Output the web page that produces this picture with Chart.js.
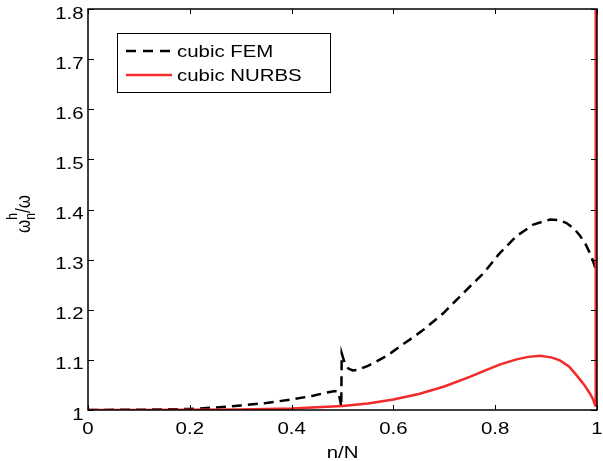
<!DOCTYPE html>
<html>
<head>
<meta charset="utf-8">
<script src="https://cdn.jsdelivr.net/npm/chart.js@4/dist/chart.umd.min.js"></script>
<style>
  html, body { margin: 0; padding: 0; background: #fff; }
  #wrap { width: 603px; height: 461px; }
</style>
</head>
<body>
<div id="wrap"><canvas id="grafico" width="603" height="461"></canvas></div>
<script>
// ===============================
// DATOS
// ===============================
const xTicks = [0, 0.2, 0.4, 0.6, 0.8, 1];
const yTicks = [1, 1.1, 1.2, 1.3, 1.4, 1.5, 1.6, 1.7, 1.8];
const xTickLabels = ["0", "0.2", "0.4", "0.6", "0.8", "1"];
const yTickLabels = ["1", "1.1", "1.2", "1.3", "1.4", "1.5", "1.6", "1.7", "1.8"];

const femX = [0, 0.1, 0.2, 0.25, 0.3, 0.35, 0.4, 0.44, 0.47, 0.485, 0.492, 0.4965, 0.4975,
  0.4985, 0.503, 0.511, 0.52, 0.53, 0.55, 0.567, 0.59, 0.613, 0.636, 0.659, 0.698, 0.737,
  0.777, 0.809, 0.842, 0.875, 0.908, 0.925, 0.94, 0.955, 0.967, 0.978, 0.986, 0.992, 0.997];
const femY = [1.000, 1.0005, 1.002, 1.005, 1.009, 1.014, 1.021, 1.028, 1.035, 1.038, 1.036, 1.013, 1.006,
  1.113, 1.098, 1.083, 1.079, 1.080, 1.088, 1.097, 1.110, 1.127, 1.143, 1.160, 1.193, 1.233,
  1.273, 1.313, 1.347, 1.370, 1.380, 1.379, 1.373, 1.362, 1.347, 1.330, 1.313, 1.298, 1.282];

const nurbsX = [0, 0.1, 0.2, 0.3, 0.4, 0.5, 0.55, 0.6, 0.65, 0.7, 0.75, 0.783, 0.81, 0.842,
  0.865, 0.888, 0.91, 0.927, 0.945, 0.96, 0.975, 0.986, 0.992, 0.9965, 0.9975];
const nurbsY = [1.000, 1.0002, 1.0005, 1.0012, 1.0028, 1.008, 1.013, 1.021, 1.032, 1.047, 1.066, 1.080, 1.091, 1.101,
  1.106, 1.108, 1.105, 1.099, 1.087, 1.069, 1.050, 1.033, 1.022, 1.009, 1.800];

const serieNombres = ["cubic FEM", "cubic NURBS"];
const rojo = "#f22a2a";
const estirar = 1.2;   // la figura original esta algo ensanchada
const fuente = "Liberation Sans, Arial, Helvetica, sans-serif";

// ===============================
// TEXTO ENSANCHADO
// ===============================
function texto(ctx, str, x, y, align, size) {
  ctx.save();
  ctx.translate(x, y);
  ctx.scale(estirar, 1);
  ctx.font = size + "px " + fuente;
  ctx.textAlign = align;
  ctx.textBaseline = "alphabetic";
  ctx.fillStyle = "#000";
  ctx.fillText(str, 0, 0);
  ctx.restore();
}

// ===============================
// EJES ESTILO MATLAB + LEYENDA
// ===============================
const ejesMatlab = {
  id: "ejesMatlab",
  afterDraw(chart) {
    const ctx = chart.ctx;
    const a = chart.chartArea;
    const sx = chart.scales.x;
    const sy = chart.scales.y;

    ctx.save();
    ctx.strokeStyle = "#000";
    ctx.lineWidth = 1.5;
    ctx.strokeRect(a.left, a.top, a.right - a.left, a.bottom - a.top);

    // ticks hacia dentro
    ctx.lineWidth = 1;
    ctx.beginPath();
    xTicks.forEach(v => {
      const px = Math.round(sx.getPixelForValue(v)) + 0.5;
      ctx.moveTo(px, a.bottom); ctx.lineTo(px, a.bottom - 5);
      ctx.moveTo(px, a.top); ctx.lineTo(px, a.top + 5);
    });
    yTicks.forEach(v => {
      const py = Math.round(sy.getPixelForValue(v)) + 0.5;
      ctx.moveTo(a.left, py); ctx.lineTo(a.left + 6, py);
      ctx.moveTo(a.right, py); ctx.lineTo(a.right - 6, py);
    });
    ctx.stroke();

    // etiquetas
    xTicks.forEach((v, i) => {
      texto(ctx, xTickLabels[i], sx.getPixelForValue(v), a.bottom + 23.5, "center", 17);
    });
    yTicks.forEach((v, i) => {
      texto(ctx, yTickLabels[i], a.left - 4.5, sy.getPixelForValue(v) + 9.5, "right", 17);
    });
    texto(ctx, "n/N", (a.left + a.right) / 2, 458, "center", 17);

    // titulo eje y: omega_n^h / omega
    ctx.save();
    ctx.translate(30, 233);
    ctx.rotate(-Math.PI / 2);
    ctx.scale(1, estirar);
    ctx.fillStyle = "#000";
    ctx.textBaseline = "alphabetic";
    ctx.textAlign = "left";
    ctx.font = "17px " + fuente;
    ctx.fillText("ω", 0, 0);
    let u = ctx.measureText("ω").width;
    ctx.font = "12px " + fuente;
    ctx.fillText("h", u, -11);
    ctx.fillText("n", u, 4);
    u += Math.max(ctx.measureText("h").width, ctx.measureText("n").width);
    ctx.font = "17px " + fuente;
    ctx.fillText("/ω", u, 0);
    ctx.restore();

    // leyenda
    const lx = 117, ly = 33, lw = 213, lh = 59;
    ctx.fillStyle = "#fff";
    ctx.fillRect(lx, ly, lw, lh);
    ctx.lineWidth = 1;
    ctx.strokeStyle = "#000";
    ctx.strokeRect(lx + 0.5, ly + 0.5, lw, lh);

    ctx.lineWidth = 2.5;
    ctx.setLineDash([10, 7]);
    ctx.beginPath();
    ctx.moveTo(126, 51); ctx.lineTo(172, 51);
    ctx.stroke();
    ctx.setLineDash([]);
    ctx.strokeStyle = rojo;
    ctx.beginPath();
    ctx.moveTo(126, 75); ctx.lineTo(172, 75);
    ctx.stroke();

    texto(ctx, serieNombres[0], 177, 57, "left", 17);
    texto(ctx, serieNombres[1], 177, 81, "left", 17);
    ctx.restore();
  }
};

// ===============================
// GRAFICO
// ===============================
new Chart(document.getElementById("grafico"), {
  type: "scatter",
  data: {
    datasets: [{
      label: serieNombres[1],
      data: nurbsX.map((x, i) => ({ x: x, y: nurbsY[i] })),
      showLine: true,
      borderColor: rojo,
      borderWidth: 2.5,
      pointRadius: 0,
      tension: 0
    }, {
      label: serieNombres[0],
      data: femX.map((x, i) => ({ x: x, y: femY[i] })),
      showLine: true,
      borderColor: "#000",
      borderWidth: 2.5,
      borderDash: [10, 6],
      pointRadius: 0,
      tension: 0
    }]
  },
  options: {
    responsive: false,
    animation: false,
    layout: { padding: { left: 0, right: 6, top: 9, bottom: 0 } },
    plugins: { legend: { display: false }, tooltip: { enabled: false } },
    scales: {
      x: {
        type: "linear", min: 0, max: 1,
        ticks: { display: false },
        grid: { display: false },
        border: { display: false },
        afterFit: s => { s.height = 51; }
      },
      y: {
        type: "linear", min: 1, max: 1.8,
        ticks: { display: false },
        grid: { display: false },
        border: { display: false },
        afterFit: s => { s.width = 88; }
      }
    }
  },
  plugins: [ejesMatlab]
});
</script>
</body>
</html>
